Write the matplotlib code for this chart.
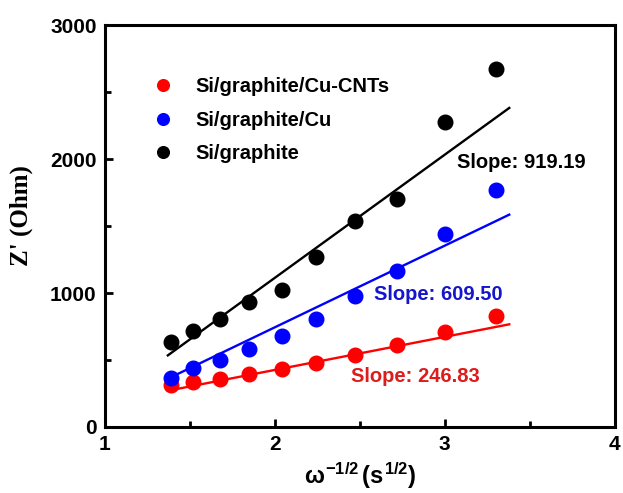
import matplotlib
matplotlib.use("Agg")
import matplotlib.pyplot as plt
import numpy as np
from matplotlib.ticker import MultipleLocator

# ---- data ----
x_vals = [1.39, 1.52, 1.68, 1.85, 2.04, 2.24, 2.47, 2.72, 3.00, 3.30]
y_cnt = [315, 339, 357, 395, 434, 477, 539, 614, 706, 831]
y_cu = [369, 437, 500, 582, 676, 809, 976, 1163, 1438, 1770]
y_gr = [637, 719, 809, 936, 1019, 1266, 1538, 1700, 2275, 2674]
labels = ["Si/graphite/Cu-CNTs", "Si/graphite/Cu", "Si/graphite"]
slopes = [246.83, 609.50, 919.19]
intercepts = [-68, -475, -725]
fit_range = [1.37, 3.38]
slope_text = ["Slope: 246.83", "Slope: 609.50", "Slope: 919.19"]
text_pos = [(2.45, 375), (2.585, 989), (3.075, 1978)]

colors = ["#ff0000", "#0000ff", "#000000"]
text_colors = ["#dd1c1c", "#1515cc", "#000000"]

plt.rcParams['font.family'] = ['Liberation Sans', 'DejaVu Sans']
plt.rcParams['font.weight'] = 'bold'
plt.rcParams['mathtext.fontset'] = 'custom'
plt.rcParams['mathtext.rm'] = 'Liberation Sans:bold'
plt.rcParams['mathtext.bf'] = 'Liberation Sans:bold'
plt.rcParams['mathtext.it'] = 'Liberation Sans:bold'

fig = plt.figure(figsize=(6.23, 4.93), dpi=100)
ax = fig.add_axes([0.1685, 0.134, 0.818, 0.815])

series = [y_cnt, y_cu, y_gr]
for ys, lab, c, s, b in zip(series, labels, colors, slopes, intercepts):
    ax.plot(x_vals, ys, 'o', color=c, markersize=10.5, label=lab, linestyle='none')
    xf = np.array(fit_range)
    ax.plot(xf, s * xf + b, '-', color=c, linewidth=1.7)

for t, (tx, ty), c in zip(slope_text, text_pos, text_colors):
    ax.text(tx, ty, t, color=c, fontsize=14.5, fontweight='bold', va='center', ha='left')

ax.set_xlim(1, 4)
ax.set_ylim(0, 3000)
ax.xaxis.set_major_locator(MultipleLocator(1))
ax.xaxis.set_minor_locator(MultipleLocator(0.5))
ax.yaxis.set_major_locator(MultipleLocator(1000))
ax.yaxis.set_minor_locator(MultipleLocator(500))
ax.tick_params(which='both', direction='in', width=2, top=False, right=False, labelsize=15, pad=6)
ax.tick_params(which='major', length=6)
ax.tick_params(which='minor', length=4)
for sp in ax.spines.values():
    sp.set_linewidth(2.2)
for lbl in ax.get_xticklabels() + ax.get_yticklabels():
    lbl.set_fontweight('bold')

ax.set_xlabel(r'$\omega^{-1/2}\,(s^{1/2})$', fontsize=17, labelpad=4)
ax.set_ylabel("Z' (Ohm)", fontsize=18, fontweight='bold', family='Liberation Serif')
ax.yaxis.set_label_coords(-0.142, 0.527)

leg = ax.legend(loc='upper left', bbox_to_anchor=(0.058, 0.915), frameon=False,
                fontsize=14.5, handletextpad=1.1, labelspacing=0.72, markerscale=0.8,
                handlelength=1.0)
for t in leg.get_texts():
    t.set_fontweight('bold')

fig.savefig("out.png", dpi=100)
